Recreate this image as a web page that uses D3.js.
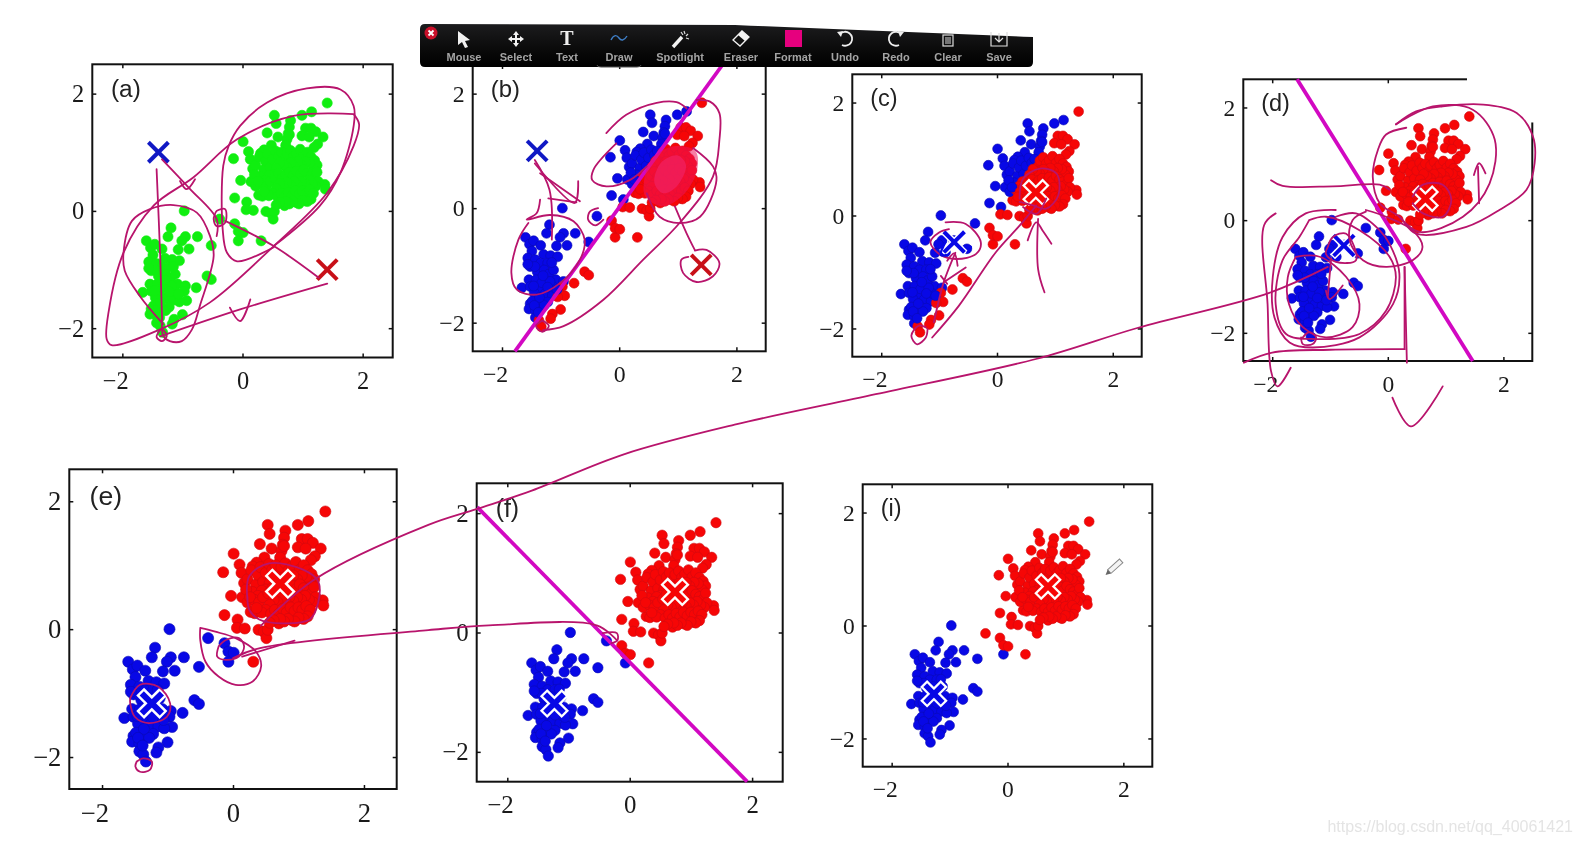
<!DOCTYPE html>
<html><head><meta charset="utf-8">
<script src="https://cdn.jsdelivr.net/npm/d3@7/dist/d3.min.js"></script>
<style>html,body{margin:0;padding:0;background:#fff;overflow:hidden}svg{display:block;filter:blur(.5px)}</style>
</head><body><svg id="c" width="1580" height="842"></svg>
<script>
// ---------- data ----------
const lowerCluster=[[-.97,0],[-1.19,-.29],[-1.24,-.44],[-.95,-.44],[-.75,-.44],[-1.01,-.51],[-1.6,-.51],[-1.53,-.63],[-1.46,-.57],[-1.34,-.65],[-1.07,-.66],[-.89,-.65],[-.52,-.59],[-.07,-.51],[-1.49,-.75],[-1.29,-.81],[-1.17,-.83],[-1.05,-.85],[-1.56,-.87],[-1.43,-.9],[-1.34,-.96],[-1.22,-.96],[-1.52,-1.02],[-.59,-1.11],[-.52,-1.17],[-1.4,-1.11],[-1.28,-1.08],[-1.54,-1.25],[-1.66,-1.39],[-1.42,-1.25],[-1.08,-1.25],[-.95,-1.28],[-.77,-1.31],[-.97,-1.37],[-1.52,-1.37],[-1.37,-1.43],[-1.26,-1.49],[-1.14,-1.52],[-.93,-1.53],[-1.05,-1.55],[-1.4,-1.55],[-1.52,-1.67],[-1.34,-1.67],[-1.22,-1.64],[-1.54,-1.76],[-1.43,-1.79],[-1,-1.77],[-1.14,-1.85],[-1.17,-1.93],[-1.43,-1.91],[-1.37,-1.96],[-1.33,-2.07],[-1.2,-1.15],[-1.32,-1.3],[-1.12,-1.38],[-1.45,-1.48],[-1.28,-1.7],[-1.48,-1.62],[-1.12,-1.08],[-1.18,-1.28],[-1.44,-1.02],[-1.3,-1.18],[-1.46,-1.36],[-1.22,-1.38],[-1.36,-1.56],[-1.15,-.95],[-1.45,-1.7],[-1.38,-1.82],[-1.06,-1.42],[-1.56,-.98]];
const upperFringe=[[1.41,1.84],[1.15,1.69],[.99,1.63],[.53,1.63],[.56,1.49],[.8,1.54],[.78,1.43],[.41,1.33],[.59,1.26],[.76,1.32],[.74,1.22],[1.05,1.41],[1.14,1.41],[1.22,1.35],[1.34,1.26],[.99,1.28],[1.11,1.26],[1.25,1.14],[1.19,1.08],[.01,1.18],[.1,1.01],[-.15,.89],[.13,.88],[-.03,.52],[-.13,.22],[.07,.15],[.06,.02],[.18,.01],[.27,.27],[.33,.25],[.39,-.01],[.47,-.04],[.51,-.14],[.53,-.01],[.7,.09],[1.05,.17],[.9,.14],[1.37,.45],[1.38,.37],[-.38,-.14],[-.13,-.22],[-.07,-.35],[.01,-.37],[.31,-.51],[.78,1.3],[.72,1.12],[.48,1.12],[.36,1.04],[.3,.98],[.17,.72],[.14,.5],[.22,.42]];
const upperCore=[[.22,.78],[.28,.92],[.35,.7],[.3,.58],[.2,.62],[.38,.85],[.42,.97],[.46,.74],[.5,.88],[.55,1.02],[.6,.93],[.65,1],[.7,.86],[.74,.97],[.8,1.03],[.85,.92],[.9,.98],[.96,1.05],[1.02,.93],[1.08,1],[1.14,.92],[1.2,.86],[1.24,.78],[1.18,.72],[1.12,.82],[1.05,.84],[.98,.78],[.92,.84],[.86,.76],[.8,.82],[.74,.74],[.68,.78],[.62,.82],[.56,.72],[.5,.62],[.44,.6],[.38,.52],[.32,.46],[.26,.5],[.4,.42],[.46,.5],[.54,.56],[.6,.64],[.66,.56],[.72,.62],[.78,.66],[.84,.6],[.9,.68],[.96,.62],[1.02,.7],[1.08,.64],[1.14,.6],[1.2,.56],[1.24,.66],[1.26,.5],[1.22,.42],[1.16,.46],[1.1,.52],[1.04,.46],[.98,.5],[.92,.44],[.86,.5],[.8,.44],[.74,.48],[.68,.42],[.62,.46],[.56,.38],[.5,.3],[.44,.26],[.58,.24],[.64,.3],[.7,.24],[.76,.32],[.82,.26],[.88,.34],[.94,.28],[1,.34],[1.06,.3],[1.12,.36],[1.18,.3],[1.14,.2],[1.08,.16],[1,.18],[.94,.12],[.84,.16],[.78,.12],[.72,.16],[.62,.14],[.56,.1],[.36,.33]];
const tickValues=[-2,0,2];
const panelNames=["a","b","c","d","e","f","i"];
const panelLefts=[92.3,472.7,852.3,1243.3,69.3,476.7,862.7];
const panelRights=[392.7,765.7,1141.7,1532.3,396.7,782.7,1152.3];
const panelTops=[64.3,65,74.3,79.3,469.3,483.3,484.3];
const panelBottoms=[357.5,351.3,356.7,361,789,781.7,766.7];
// class boundaries (two points) and a point known to be on the blue side
const boundaryB=[[-1.78,-2.5],[1.76,2.5]];
const boundaryD=[[-1.57,2.5],[1.47,-2.5]];
const boundaryF=[[-2.49,2.1],[1.92,-2.5]];
const boundaryI=[[-.7,0],[.1,-.5]];
const panelBoundary={a:null,b:boundaryB,c:boundaryB,d:boundaryD,e:boundaryD,f:boundaryF,i:boundaryI};
const drawnLine={b:boundaryB,d:boundaryD,f:boundaryF};
const blueSide={b:[-1.4,1],c:[-1.4,1],d:[-.76,-.45],e:[-1.24,-1.16],f:[-1.23,-1.19],i:[-1.27,-1.21]};
const blueCentre={a:[-1.4,1],b:[-1.4,1],c:[-.74,-.47],d:[-.76,-.45],e:[-1.24,-1.16],f:[-1.23,-1.19],i:[-1.27,-1.21]};
const redCentre={a:[1.41,-1],b:[1.4,-.99],c:[.67,.41],d:[.65,.38],e:[.72,.71],f:[.74,.68],i:[.7,.69]};
const haloStyle={a:0,b:0,c:1,d:1,e:2,f:2,i:2};
// hand-drawn annotation strokes, in each panel's axis units
const inkA=[
[[1.85,1.65],[.85,1.62],[-.09,1.22],[-.82,.57],[-1.48,.09],[-1.98,-.71],[-2.23,-1.73],[-2.26,-2.19],[-2.18,-2.29],[-1.37,-2.02],[-.54,-1.56],[.52,-.6],[1.41,.31],[1.85,1.11],[1.94,1.48],[1.85,1.65]],
[[.52,-.62],[-.09,-.86],[-.26,-.71],[-.33,-.31],[-.32,.77],[-.23,1.11],[-.04,1.45],[.41,1.85],[1.07,2.09],[1.63,2.07],[1.85,1.79],[1.85,1.45],[1.63,.65],[1.29,.09],[.52,-.6]],
[[-1.32,-1.93],[-1.71,-1.45],[-1.96,-1.02],[-1.98,-.71],[-1.84,-.17],[-1.54,.03],[-1.15,.1],[-.76,-.03],[-.54,-.43],[-.48,-.77],[-.71,-1.62],[-.84,-2.02],[-1.01,-2.22],[-1.21,-2.22],[-1.32,-2.13],[-1.34,-1.79],[-1.37,-.77],[-1.43,.71]],
[[-1.34,.88],[-.88,.38],[-.43,-.14],[-.43,-.43]],
[[-.47,-.09],[-.43,0],[-.29,.03],[-.29,-.2],[-.43,-.26],[-.48,-.14],[-.47,-.09]],
[[-.29,-.17],[.52,-.6],[1.27,-1.14]],
[[-1.37,-2.14],[-.04,-1.68],[1.41,-1.24]],
[[-.21,-1.65],[-.04,-1.88],[.13,-1.51]],
[[-1.04,.51],[-.93,.37],[-.79,.54]],
[[-1.37,-2.03],[-1.43,-2.15],[-1.34,-2.22],[-1.26,-2.13],[-1.32,-2.03]]];
const inkB=[
[[-.22,1.31],[.12,1.63],[.64,1.84],[.98,1.85],[1.15,1.74]],
[[-.05,1.13],[-.44,.67],[-.46,.49],[-.22,.38],[.18,.49],[.47,.73]],
[[-1.3,-2.13],[-.95,-2.06],[-.27,-1.6],[.41,-.9],[1.03,-.26],[1.6,.55],[1.71,1.19],[1.71,1.66],[1.55,1.86],[1.32,1.89]],
[[1.26,1.05],[1.6,.73],[1.66,.49],[1.38,-.15],[1.03,-.26],[.69,-.15],[.47,.26]],
[[.95,.03],[1.15,-.44],[1.29,-.73]],
[[1.29,-.74],[1.49,-.73],[1.71,-.96],[1.6,-1.19],[1.32,-1.29],[1.09,-1.13],[1.06,-.9],[1.18,-.85]],
[[-1.44,.84],[-1.19,.32],[-1.15,-.55]],
[[-1.44,.78],[-.76,.09],[-.7,.47]],
[[-1.35,.61],[-.67,.12]],
[[-1.21,.17],[-.73,.1]],
[[-1.35,.15],[-1.41,-.09],[-1.58,-.2],[-1.18,-.12],[-.78,-.23],[-.59,-.55],[-.67,-.9],[-1.01,-1.31],[-1.41,-1.51],[-1.75,-1.42],[-1.84,-1.13],[-1.72,-.55],[-1.55,-.26]],
[[-.36,0],[-.5,-.06],[-.53,-.2],[-.41,-.3],[-.27,-.2]],
[[-1.31,-1.96],[-1.42,-2.06],[-1.31,-2.16],[-1.2,-2.06],[-1.31,-1.96]]];
const blobB=[[.42,.44],[.55,.85],[.93,1.08],[1.3,1],[1.33,.67],[1.12,.26],[.75,.03],[.45,.2]];
const blobCore=[[.6,.45],[.72,.8],[1,.92],[1.14,.75],[.98,.38],[.75,.26]];
const inkC=[
[[-.89,-.12],[-.54,-.15],[-.28,-.47],[-.36,-.68],[-.71,-.77],[-1,-.68],[-1.15,-.47],[-1,-.3],[-.83,-.24]],
[[-.72,-.66],[-.92,-1.18],[-1.09,-1.89]],
[[-.86,-.8],[-.74,-.67],[-.68,-.89]],
[[-.97,-1.07],[-.86,-1.21]],
[[-.92,-1.18],[-.54,-.92]],
[[-1.12,-2.16],[-.66,-1.6],[-.02,-.65],[.39,-.18],[.68,.18]],
[[-1.23,-1.98],[-1.35,-1.95],[-1.48,-2.13],[-1.38,-2.28],[-1.23,-2.16],[-1.2,-2.01]],
[[.39,.3],[.45,.65],[.74,.83],[1.03,.74],[1.06,.36],[.85,.12],[.62,.18],[.39,.24]],
[[.82,-1.36],[.71,-.95],[.71,-.06]],
[[.53,-.44],[.68,-.12],[.79,-.27],[.94,-.5]],
[[.45,.15],[.68,.03],[.85,.3]]];
const inkCblue=[[[-.89,-.47],[-.97,-.7],[-.86,-.7]],[[-.54,-.56],[-.45,-.56],[-.51,-.65]]];
const inkD=[
[[.14,1.7],[.49,1.93],[.95,2.02],[1.65,2.05],[2.23,1.9],[2.51,1.49],[2.54,1.01],[2.4,.54],[1.93,.18],[1.36,-.12],[.49,-.24],[.2,.06],[-.14,.3],[-.26,.77],[-.17,1.25],[-.03,1.52],[.32,1.64]],
[[.14,1.7],[.78,2.02],[1.47,1.96],[1.85,1.43],[1.76,.65],[1.3,.06],[.55,-.21],[.2,.06]],
[[-2.02,.71],[-1.82,.61],[-.95,.6],[-.14,.63],[.03,.54]],
[[.43,.42],[.61,.63],[.95,.63],[1.1,.36],[.95,.06],[.61,.12],[.43,.3]],
[[1.58,.3],[1.56,.95]],
[[1.49,.8],[1.58,1.01],[1.69,.83]],
[[-.9,.18],[-1.42,.12],[-1.82,-.3],[-1.99,-1.01],[-1.96,-1.73],[-1.7,-2.17],[-1.3,-2.26],[-.49,-2.08],[.09,-1.49],[.2,-.95],[.03,-.42],[-.14,-.18],[-.55,.12],[-.9,.06]],
[[-1.36,0],[-1.07,.06],[-.49,-.18],[.03,-.65],[.14,-1.01],[-.03,-1.61],[-.49,-2.02],[-1.24,-2.11],[-1.76,-2.02],[-1.94,-1.49],[-1.82,-.71],[-1.53,-.3],[-1.36,0]],
[[-1.59,-.65],[-1.18,-.65],[-.72,-1.01],[-.49,-1.49],[-.61,-1.9],[-1.07,-2.08],[-1.47,-1.9],[-1.71,-1.49],[-1.73,-1.01],[-1.59,-.65]],
[[-.38,.18],[-.03,.06],[.43,-.18],[.6,-.48],[.43,-.71],[-.03,-.83],[-.43,-.71],[-.66,-.36],[-.61,0],[-.38,.15]],
[[-1.04,-.48],[-.95,-.3],[-.72,-.24],[-.55,-.71],[-.9,-.74],[-1.07,-.6],[-1.04,-.48]],
[[-1.47,-2.08],[-1.36,-1.99],[-1.24,-2.08],[-1.3,-2.2],[-1.47,-2.2],[-1.5,-2.08]],
[[-.98,-.68],[-1.04,-1.37]],
[[-1.07,-1.25],[-1.01,-1.4],[-.78,-1.16]],
[[-2.49,-2.53],[-2,-2.35],[-1,-2.3],[.29,-2.29]],
[[.29,-2.29],[.29,-.83]],
[[.29,-.83],[.33,-2.53]],
[[-1.94,.12],[-2.14,-.09],[-2.08,-1.49],[-2.02,-2.68],[-1.91,-2.95],[-1.68,-2.62]],
[[.08,-3.15],[.4,-3.66],[.95,-2.95]],
// long stroke from panel (e) up to panel (d), in panel (d) units
[[-19.5,-7.2],[-18.57,-6.38],[-16.6,-5.41],[-15.77,-5.13],[-14.81,-4.8],[-13.23,-4.16],[-11.3,-3.63],[-8.86,-3.09],[-6.07,-2.46],[-4.32,-1.91],[-2.05,-1.29],[-1.04,-.83]]];
const inkE=[
[[.22,.46],[.25,.83],[.55,1.03],[1.07,.93],[1.3,.75],[1.3,.41],[1.17,.15],[.76,.09],[.4,.15],[.25,.3],[.22,.51]],
[[.14,-.43],[.94,-.18]],
[[-.5,.02],[-.27,-.04],[.04,-.14],[.35,-.35],[.43,-.58],[.3,-.82],[.04,-.87],[-.22,-.74],[-.42,-.51],[-.5,-.17],[-.5,.02]],
[[-.22,-.27],[-.11,-.17],[.09,-.14],[.17,-.27],[.09,-.43],[-.11,-.48],[-.24,-.43],[-.22,-.27]],
[[-1.57,-1.08],[-1.42,-.87],[-1.14,-.9],[-.96,-1.16],[-1.01,-1.37],[-1.29,-1.47],[-1.5,-1.37],[-1.57,-1.16],[-1.57,-1.08]],
[[-1.47,-2.07],[-1.37,-2.02],[-1.24,-2.07],[-1.27,-2.2],[-1.42,-2.23],[-1.49,-2.15],[-1.47,-2.07]]];
const inkF=[
[[-6.48,-.43],[-6.04,-.26],[-3.29,.04],[-2.3,.12],[-.54,.12],[-.21,-.13]],
[[-.44,-.01],[-.21,-.01],[-.2,-.13],[-.3,-.18]]];
const panelInk={a:inkA,b:inkB,c:inkC,d:inkD,e:inkE,f:inkF,i:[]};
const toolNames=["Mouse","Select","Text","Draw","Spotlight","Eraser","Format","Undo","Redo","Clear","Save"];
const toolCentres=[464,516,567,619,680,741,793,845,896,948,999];
const watermark="https://blog.csdn.net/qq_40061421";

// ---------- drawing ----------
const svg=d3.select("#c");
const BLUE="#0808e6",BLUE_D="#0a0ab4",RED="#f60606",RED_D="#d00a10",GREEN="#10ee10",MAG="#d208c2",INK="#b8146c";
const grad=svg.append("defs").append("linearGradient").attr("id","tb").attr("x1",0).attr("x2",0).attr("y1",0).attr("y2",1);
grad.append("stop").attr("offset",0).attr("stop-color","#1c1c1e");
grad.append("stop").attr("offset",.6).attr("stop-color","#0a0a0a");
grad.append("stop").attr("offset",1).attr("stop-color","#000");
const allPoints=[...lowerCluster,...upperFringe,...upperCore];
const sideOf=(p,l)=>(l[1][0]-l[0][0])*(p[1]-l[0][1])-(l[1][1]-l[0][1])*(p[0]-l[0][0]);
const inkLine=(x,y)=>d3.line().x(d=>x(d[0])).y(d=>y(d[1])).curve(d3.curveCatmullRom.alpha(.5));
const scales={};

panelNames.forEach((name,i)=>{
  const L=panelLefts[i],R=panelRights[i],T=panelTops[i],B=panelBottoms[i];
  const k=(R-L)/295;
  const x=d3.scaleLinear().domain([-2.5,2.5]).range([L,R]);
  const y=d3.scaleLinear().domain([-2.5,2.5]).range([B,T]);
  scales[name]={x,y};
  const g=svg.append("g").attr("class","panel-"+name);
  const fs=24*k;
  const axis=(fn,sc,tx,ty,lab,pad,shift)=>{
    const a=g.append("g").attr("transform",`translate(${tx},${ty})`)
      .call(fn(sc).tickValues(tickValues).tickSizeInner(-4).tickSizeOuter(0).tickPadding(pad)
        .tickFormat(lab?d3.format("d"):""));
    a.select(".domain").remove();
    a.selectAll("line").attr("stroke","#111").attr("stroke-width",1.5);
    a.selectAll("text").attr("font-family","'Liberation Serif',serif").attr("font-size",fs).attr("fill","#1a1a1a")
      .attr("dx",d=>shift&&d<0?-7*k:0);
  };
  axis(d3.axisBottom,x,0,B,true,14,true);
  axis(d3.axisLeft,y,L,0,true,8,false);
  axis(d3.axisTop,x,0,T,false,0,false);
  axis(d3.axisRight,y,R,0,false,0,false);
  g.append("rect").attr("x",L).attr("y",T).attr("width",R-L).attr("height",B-T).attr("fill","none").attr("stroke","#111").attr("stroke-width",2);
  if(name==="d") g.append("rect").attr("x",x(1.37)).attr("y",T-3).attr("width",R-x(1.37)+5).attr("height",y(2)-T+18).attr("fill","#fff");
  g.append("text").attr("x",x(-2.19)).attr("y",y(1.94)).attr("font-family","'Liberation Sans',sans-serif").attr("font-size",fs).attr("fill","#222").text(`(${name})`);
  const bound=panelBoundary[name];
  const isBlue=p=>sideOf(p,bound)*sideOf(blueSide[name],bound)>0;
  g.append("g").selectAll("circle").data(allPoints).join("circle")
    .attr("cx",d=>x(d[0])).attr("cy",d=>y(d[1])).attr("r",5*k)
    .attr("fill",d=>!bound?GREEN:isBlue(d)?BLUE:RED)
    .attr("stroke",d=>!bound?GREEN:isBlue(d)?BLUE_D:RED_D).attr("stroke-width",.6);
  if(drawnLine[name]){
    const l=drawnLine[name];
    g.append("line").attr("x1",x(l[0][0])).attr("y1",y(l[0][1])).attr("x2",x(l[1][0])).attr("y2",y(l[1][1]))
      .attr("stroke",MAG).attr("stroke-width",3.8);
  }
  const cross=(c,color,style,isBlueMark)=>{
    const r=10.5*k;
    const segs=[[[-1,-1],[1,1]],[[-1,1],[1,-1]]];
    const draw=(col,w,rr)=>segs.forEach(s=>g.append("line")
      .attr("x1",x(c[0])+s[0][0]*rr).attr("y1",y(c[1])+s[0][1]*rr)
      .attr("x2",x(c[0])+s[1][0]*rr).attr("y2",y(c[1])+s[1][1]*rr)
      .attr("stroke",col).attr("stroke-width",w));
    if(style===0) draw(color,4,10);
    else if(style===1&&isBlueMark){draw("#fff",7*k,r+1);draw(color,4*k,r);}
    else{draw("#fff",10*k,r);draw(color,5.4*k,r-1.6);}
  };
  cross(blueCentre[name],name==="a"||name==="b"?"#1018c4":BLUE,haloStyle[name],true);
  cross(redCentre[name],name==="a"||name==="b"?"#c81018":RED,haloStyle[name],false);
});

// ink goes over every panel
panelNames.forEach(name=>{
  const {x,y}=scales[name];
  const line=inkLine(x,y);
  if(name==="b"){
    svg.append("path").attr("d",d3.line().x(d=>x(d[0])).y(d=>y(d[1])).curve(d3.curveCatmullRomClosed)(blobB)).attr("fill","#f0145a").attr("fill-opacity",.55);
    svg.append("path").attr("d",d3.line().x(d=>x(d[0])).y(d=>y(d[1])).curve(d3.curveCatmullRomClosed)(blobCore)).attr("fill","#f02060").attr("fill-opacity",.75);
  }
  const g=svg.append("g").attr("class","ink-"+name).attr("fill","none").attr("stroke",INK).attr("stroke-width",1.8).attr("stroke-linejoin","round").attr("stroke-linecap","round");
  panelInk[name].forEach(s=>g.append("path").attr("d",line(s)));
  if(name==="c") inkCblue.forEach(s=>g.append("path").attr("d",line(s)).attr("stroke",BLUE).attr("stroke-width",2.4));
});

// pencil cursor beside panel (i)
{const {x,y}=scales.i;
 svg.append("g").attr("transform",`translate(${x(1.86)},${y(1.05)}) rotate(-42)`).call(g=>{
  g.append("rect").attr("x",-8).attr("y",-2.5).attr("width",16).attr("height",5).attr("fill","#f4f4f4").attr("stroke","#888").attr("stroke-width",1);
  g.append("path").attr("d","M-8,-2.5L-13,0L-8,2.5Z").attr("fill","#666");
 });}

// presenter toolbar
const tb=svg.append("g").attr("class","toolbar");
tb.append("path").attr("d","M425,24 L735,25 Q880,31 1033,37 L1033,62 Q1033,67 1028,67 L425,67 Q420,67 420,62 L420,29 Q420,24 425,24Z").attr("fill","url(#tb)");
tb.selectAll("text.tool").data(toolNames).join("text").attr("class","tool")
  .attr("x",(d,i)=>toolCentres[i]).attr("y",61).attr("text-anchor","middle")
  .attr("font-family","'Liberation Sans',sans-serif").attr("font-size",11).attr("font-weight","bold").attr("fill","#a4a4a4").text(d=>d);
tb.append("circle").attr("cx",431).attr("cy",33).attr("r",6.5).attr("fill","#c8102a");
tb.append("path").attr("d","M428.5,30.5L433.5,35.5M433.5,30.5L428.5,35.5").attr("stroke","#fff").attr("stroke-width",1.8);
const icon=(i,fn)=>{const g=tb.append("g").attr("transform",`translate(${toolCentres[i]},39)`);fn(g);};
icon(0,g=>g.append("path").attr("d","M-6,-8L6,1L1,2L4,8L1,9L-2,3L-6,6Z").attr("fill","#f2f2f2"));
icon(1,g=>{g.append("path").attr("d","M0,-8L3,-4L1,-4L1,-1L4,-1L4,-3L8,0L4,3L4,1L1,1L1,4L3,4L0,8L-3,4L-1,4L-1,1L-4,1L-4,3L-8,0L-4,-3L-4,-1L-1,-1L-1,-4L-3,-4Z").attr("fill","#f2f2f2");});
icon(2,g=>g.append("text").attr("text-anchor","middle").attr("y",6).attr("font-family","'Liberation Serif',serif").attr("font-weight","bold").attr("font-size",20).attr("fill","#eee").text("T"));
icon(3,g=>{g.append("path").attr("d","M-8,1C-5,-5 -2,-4 0,-1C2,2 5,2 8,-3").attr("fill","none").attr("stroke","#3f7fc8").attr("stroke-width",1.4);
  g.append("path").attr("d","M-22,26 Q-22,28 -18,28 L18,28 Q22,28 22,26").attr("fill","none").attr("stroke","#555").attr("stroke-width",1);});
icon(4,g=>{g.append("path").attr("d","M-7,8L2,-2").attr("stroke","#f2f2f2").attr("stroke-width",3.4);
  g.append("path").attr("d","M4,-8L5,-5M8,-5L6,-3M9,0L6,-1M1,-7L3,-4").attr("stroke","#ddd").attr("stroke-width",1.2);});
icon(5,g=>{g.append("path").attr("d","M-8,1L1,-8L8,-2L-1,7Z").attr("fill","#111").attr("stroke","#f2f2f2").attr("stroke-width",1.3);
  g.append("path").attr("d","M-3,-4L1,-8L8,-2L4,2Z").attr("fill","#f2f2f2");});
icon(6,g=>g.append("rect").attr("x",-8).attr("y",-9).attr("width",17).attr("height",17).attr("fill","#e6007e"));
icon(7,g=>{g.append("path").attr("d","M-5,-5A7,7 0 1 1 -3,6").attr("fill","none").attr("stroke","#eee").attr("stroke-width",1.8);
  g.append("path").attr("d","M-8,-7L-2,-8L-4,-2Z").attr("fill","#eee");});
icon(8,g=>{g.append("path").attr("d","M5,-5A7,7 0 1 0 3,6").attr("fill","none").attr("stroke","#eee").attr("stroke-width",1.8);
  g.append("path").attr("d","M8,-7L2,-8L4,-2Z").attr("fill","#eee");});
icon(9,g=>{g.append("rect").attr("x",-5).attr("y",-4).attr("width",10).attr("height",11).attr("fill","none").attr("stroke","#ddd").attr("stroke-width",1.2);
  g.append("path").attr("d","M-2,-2V5M0,-2V5M2,-2V5").attr("stroke","#ddd").attr("stroke-width",1);});
icon(10,g=>{g.append("path").attr("d","M-8,-7V7H8V-7").attr("fill","none").attr("stroke","#ddd").attr("stroke-width",1.2);
  g.append("path").attr("d","M0,-6V3M-4,-1L0,3L4,-1").attr("fill","none").attr("stroke","#ddd").attr("stroke-width",1.2);});

// page watermark
svg.append("text").attr("x",1573).attr("y",832).attr("text-anchor","end")
  .attr("font-family","'Liberation Sans',sans-serif").attr("font-size",16).attr("fill","#e4e4e4").text(watermark);
</script></body></html>
